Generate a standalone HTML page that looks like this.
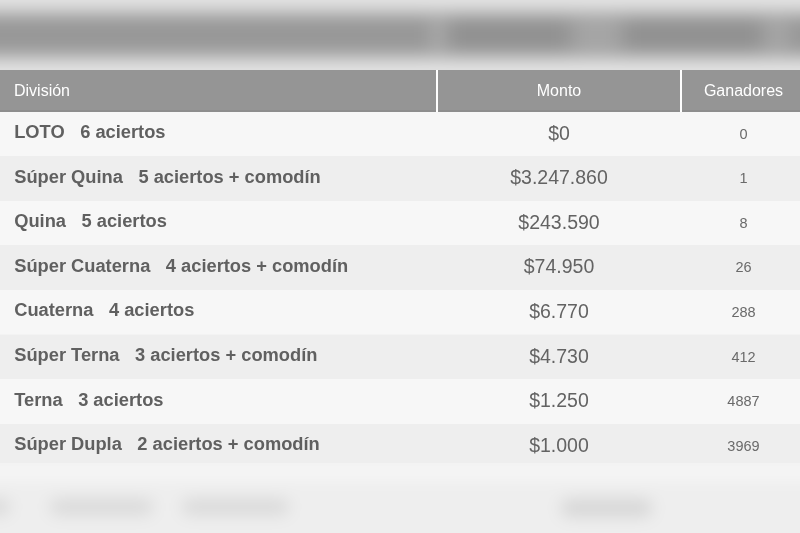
<!DOCTYPE html>
<html><head><meta charset="utf-8">
<style>
html,body{margin:0;padding:0;}
body{width:800px;height:533px;overflow:hidden;position:relative;background:#f3f3f3;font-family:"Liberation Sans",sans-serif;}
.topblur{position:absolute;left:0;top:0;width:800px;height:70px;overflow:hidden;background:#e4e4e4;}
.topblur .in{position:absolute;left:-40px;top:-40px;width:880px;height:150px;background:#e4e4e4;filter:blur(9px);}
.topblur .band{position:absolute;left:0;top:53px;width:880px;height:44px;background:#989898;}
.blob{position:absolute;border-radius:8px;}
.hdr{position:absolute;left:0;top:70px;width:820px;height:41.5px;background:#959595;color:#fff;font-size:16px;}
.hdr .c{position:absolute;top:0.8px;height:41.5px;line-height:40px;}
.hdr .d{position:absolute;top:0;width:2px;height:41.5px;background:#fff;}
.hdr .bl{position:absolute;left:0;bottom:0;width:820px;height:1.5px;background:#8e8e8e;}
.row{position:absolute;left:0;width:820px;height:44.6px;}
.row.o{background:#f7f7f7;}
.row.e{background:#eeeeee;}
.row .n{position:absolute;left:14.2px;top:-1.5px;line-height:44px;font-weight:bold;font-size:18.3px;color:#606060;white-space:nowrap;}
.row .n span{margin-left:15.5px;}
.row .m{position:absolute;left:438px;width:242px;text-align:center;top:-1px;line-height:44px;font-size:19.5px;color:#636363;}
.row .g{position:absolute;left:682px;width:123px;text-align:center;top:0;line-height:44px;font-size:14.5px;color:#6a6a6a;}
.row .n,.row .m,.row .g,.hdr .c{filter:blur(0.35px);}
.botblur{position:absolute;left:0;top:463px;width:800px;height:70px;overflow:hidden;background:#f2f2f2;}
.botblur .in{position:absolute;left:-40px;top:-40px;width:880px;height:150px;background:#eeeeee;filter:blur(8px);}
</style></head><body>
<div class="topblur"><div class="in">
  <div class="band"></div>
  <div class="blob" style="left:492px;top:60px;width:112px;height:30px;background:#919191"></div>
  <div class="blob" style="left:668px;top:60px;width:130px;height:30px;background:#919191"></div>
  <div class="blob" style="left:470px;top:58px;width:16px;height:34px;background:#aaaaaa"></div>
  <div class="blob" style="left:614px;top:60px;width:47px;height:30px;background:#a6a6a6"></div>
  <div class="blob" style="left:805px;top:60px;width:25px;height:30px;background:#a6a6a6"></div>
</div></div>

<div class="hdr">
  <div class="c" style="left:14px">División</div>
  <div class="c" style="left:438px;width:242px;text-align:center">Monto</div>
  <div class="c" style="left:682px;width:123px;text-align:center">Ganadores</div>
  <div class="bl"></div>
  <div class="d" style="left:436px"></div>
  <div class="d" style="left:680px"></div>
</div>

<div class="row o" style="top:111.5px"><div class="n">LOTO<span>6 aciertos</span></div><div class="m">$0</div><div class="g">0</div></div>
<div class="row e" style="top:156.1px"><div class="n">Súper Quina<span>5 aciertos + comodín</span></div><div class="m">$3.247.860</div><div class="g">1</div></div>
<div class="row o" style="top:200.7px"><div class="n">Quina<span>5 aciertos</span></div><div class="m">$243.590</div><div class="g">8</div></div>
<div class="row e" style="top:245.3px"><div class="n">Súper Cuaterna<span>4 aciertos + comodín</span></div><div class="m">$74.950</div><div class="g">26</div></div>
<div class="row o" style="top:289.9px"><div class="n">Cuaterna<span>4 aciertos</span></div><div class="m">$6.770</div><div class="g">288</div></div>
<div class="row e" style="top:334.5px"><div class="n">Súper Terna<span>3 aciertos + comodín</span></div><div class="m">$4.730</div><div class="g">412</div></div>
<div class="row o" style="top:379.1px"><div class="n">Terna<span>3 aciertos</span></div><div class="m">$1.250</div><div class="g">4887</div></div>
<div class="row e" style="top:423.7px"><div class="n">Súper Dupla<span>2 aciertos + comodín</span></div><div class="m">$1.000</div><div class="g">3969</div></div>

<div class="botblur"><div class="in">
  <div style="position:absolute;left:0;top:40px;width:880px;height:16px;background:#f7f7f7"></div>
  <div class="blob" style="left:20px;top:76px;width:30px;height:16px;background:#d9d9d9"></div>
  <div class="blob" style="left:90px;top:76px;width:103px;height:16px;background:#d9d9d9"></div>
  <div class="blob" style="left:222px;top:76px;width:107px;height:16px;background:#d9d9d9"></div>
  <div class="blob" style="left:601px;top:76px;width:91px;height:18px;background:#d6d6d6"></div>
</div></div>
</body></html>
